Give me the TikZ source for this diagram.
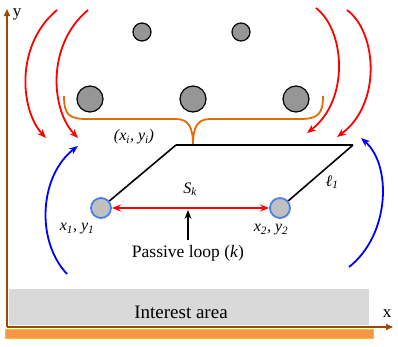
\documentclass[tikz,border=0pt]{standalone}
\usepackage{fontspec}
\setmainfont{Liberation Serif}
\usetikzlibrary{arrows.meta}
\definecolor{axbrown}{HTML}{9C4A06}
\definecolor{braceor}{HTML}{E36C09}
\definecolor{barfill}{HTML}{F79646}
\definecolor{barline}{HTML}{FFC000}
\definecolor{areagray}{HTML}{D9D9D9}
\definecolor{dotgray}{HTML}{969696}
\definecolor{loopblue}{HTML}{4A7EF0}
\definecolor{loopgray}{HTML}{C0C0C0}
\definecolor{fieldred}{HTML}{FF0000}
\definecolor{fieldblue}{HTML}{0000FF}
\tikzset{
  axis/.style={draw=axbrown,line width=1.5pt,-{Triangle[length=7pt,width=6pt]}},
  dotbig/.style={circle,draw=black,line width=1.2pt,fill=dotgray,minimum size=26pt,inner sep=0pt},
  dotsmall/.style={circle,draw=black,line width=1.2pt,fill=dotgray,minimum size=18pt,inner sep=0pt},
  loopdot/.style={circle,draw=loopblue,line width=1.8pt,fill=loopgray,minimum size=20pt,inner sep=0pt},
  redarr/.style={draw=fieldred,line width=1.8pt,-{Stealth[length=9pt,width=7pt]}},
  bluearr/.style={draw=fieldblue,line width=1.8pt,-{Stealth[length=9pt,width=7pt]}},
  edge/.style={draw=black,line width=1.6pt},
  lbl/.style={inner sep=0pt,font=\fontsize{16}{18}\selectfont\itshape},
}
\begin{document}
\begin{tikzpicture}[x=1pt,y=-1pt]
\useasboundingbox (0,0) rectangle (398,346);
% interest area and bar
\node[fill=areagray,draw=none,minimum width=360pt,minimum height=36pt,inner sep=0pt] (area) at (189,307) {};
\node[inner sep=0pt,font=\fontsize{19}{21}\selectfont] (arealbl) at (181,312) {Interest area};
\node[fill=barfill,draw=barline,line width=1pt,minimum width=368pt,minimum height=9pt,inner sep=0pt] (bar) at (189,334) {};
% axes
\coordinate (O) at (7,327);
\coordinate (Ytip) at (7,9);
\coordinate (Xtip) at (393,327);
\draw[axis] (O) -- (Ytip);
\draw[axis] (O) -- (Xtip);
\node[inner sep=0pt,font=\fontsize{17}{19}\selectfont] (ylbl) at (17,14) {y};
\node[inner sep=0pt,font=\fontsize{17}{19}\selectfont] (xlbl) at (387,314) {x};
% dots
\node[dotsmall] (d1) at (142,32) {};
\node[dotsmall] (d2) at (241,32) {};
\node[dotbig] (d3) at (90,99) {};
\node[dotbig] (d4) at (193,99) {};
\node[dotbig] (d5) at (296,99) {};
% brace
\coordinate (bl) at (64,96);
\coordinate (bt) at (193,145);
\coordinate (br) at (323,96);
\draw[draw=braceor,line width=1.8pt] (bl) .. controls (64,116) and (70,119) .. (88,119) -- (176,119) .. controls (189,119) and (193,128) .. (bt)
  .. controls (193,128) and (197,119) .. (210,119) -- (300,119) .. controls (318,119) and (323,114) .. (br);
% loop
\coordinate (tl) at (176,145);
\coordinate (tr) at (353,145);
\node[loopdot] (p1) at (101,208) {};
\node[loopdot] (p2) at (280,208) {};
\draw[edge] (tl) -- (tr);
\draw[edge] (tl) -- (p1);
\draw[edge] (tr) -- (p2);
\draw[draw=fieldred,line width=1.5pt,{Stealth[length=9pt,width=7pt]}-{Stealth[length=9pt,width=7pt]}] (p1) -- (p2);
\coordinate (pa) at (188,240);
\coordinate (pb) at (188,210);
\draw[draw=black,line width=1.6pt,-{Stealth[length=9pt,width=7pt]}] (pa) -- (pb);
\node[inner sep=0pt,font=\fontsize{17.5}{19}\selectfont] (plbl) at (188,253) {Passive loop (\textit{k})};
\node[lbl] (sk) at (190,189) {S\textsubscript{k}};
\node[lbl] (l1) at (332,182) {ℓ\textsubscript{1}};
\node[lbl] (x1) at (77,229) {x\textsubscript{1}, y\textsubscript{1}};
\node[lbl] (x2) at (271,230) {x\textsubscript{2}, y\textsubscript{2}};
\node[lbl] (xi) at (134,137) {(x\textsubscript{i}, y\textsubscript{i})};
% field arrows
\coordinate (r1s) at (57,10);  \coordinate (r1e) at (46,138);
\coordinate (r2s) at (88,10);  \coordinate (r2e) at (78,138);
\coordinate (r3s) at (316,8);  \coordinate (r3e) at (307,133);
\coordinate (r4s) at (347,10); \coordinate (r4e) at (337,137);
\draw[redarr] (r1s) .. controls (15,45) and (20,110) .. (r1e);
\draw[redarr] (r2s) .. controls (46,45) and (51,110) .. (r2e);
\draw[redarr] (r3s) .. controls (345,30) and (350,100) .. (r3e);
\draw[redarr] (r4s) .. controls (377,32) and (382,104) .. (r4e);
\coordinate (b1s) at (67,274); \coordinate (b1e) at (78,146);
\coordinate (b2s) at (349,267); \coordinate (b2e) at (361,138);
\draw[bluearr] (b1s) .. controls (35,240) and (40,175) .. (b1e);
\draw[bluearr] (b2s) .. controls (390,235) and (392,165) .. (b2e);
\end{tikzpicture}
\end{document}
